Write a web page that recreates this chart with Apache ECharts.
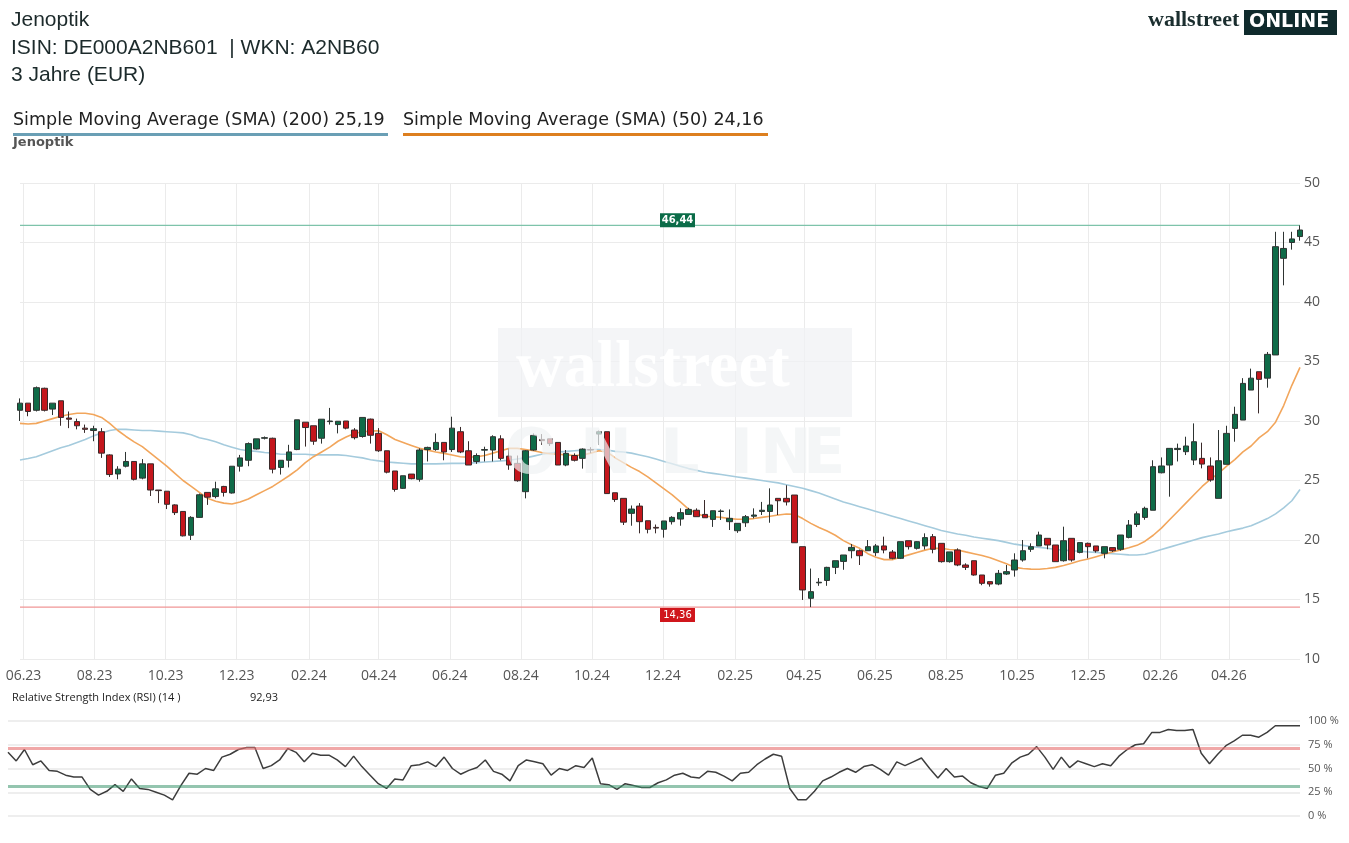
<!DOCTYPE html>
<html>
<head>
<meta charset="utf-8">
<script src="https://cdn.jsdelivr.net/npm/echarts@6/dist/echarts.min.js"></script>
<style>
html, body { margin: 0; padding: 0; background: #fff; }
#chart { width: 1349px; height: 843px; }
</style>
</head>
<body>
<div id="chart"></div>
<script>
// weekly candles, first week starts here
const startWeek = '2023-05-29'

// [open, close, low, high] per week
const weekly = [
    [30.9, 31.5, 30.0, 31.9], [31.5, 30.8, 30.4, 31.5], [30.9, 32.8, 30.8, 32.9], [32.75, 30.9, 30.8, 32.8],
    [31.0, 31.5, 30.5, 31.5], [31.7, 30.3, 29.6, 31.7], [30.25, 30.15, 29.4, 30.8], [29.95, 29.6, 29.3, 30.2],
    [29.4, 29.3, 29.0, 29.7], [29.2, 29.35, 28.3, 29.6], [29.1, 27.3, 26.9, 29.4], [27.15, 25.5, 25.3, 27.2],
    [25.55, 25.95, 25.1, 26.2], [26.2, 26.6, 26.1, 27.4], [26.6, 25.1, 25.0, 26.6], [25.2, 26.4, 25.1, 26.8],
    [26.4, 24.2, 23.7, 26.4], [24.2, 24.15, 23.1, 24.2], [24.1, 23.0, 22.6, 24.1], [22.95, 22.3, 22.1, 23.0],
    [22.4, 20.35, 20.3, 22.4], [20.4, 21.9, 20.0, 22.0], [21.9, 23.8, 21.9, 23.9], [24.0, 23.6, 22.95, 24.0],
    [23.65, 24.3, 23.5, 24.9], [24.5, 24.0, 23.65, 24.55], [23.95, 26.2, 23.9, 26.2], [26.2, 26.9, 25.75, 27.15],
    [26.7, 28.1, 26.2, 28.2], [27.65, 28.5, 27.6, 28.5], [28.55, 28.6, 28.45, 28.7], [28.55, 25.95, 25.6, 28.6],
    [26.1, 26.7, 25.5, 26.7], [26.7, 27.4, 26.1, 28.0], [27.6, 30.1, 27.55, 30.1], [29.9, 29.45, 27.85, 29.9],
    [29.6, 28.3, 28.0, 29.6], [28.55, 30.15, 28.1, 30.15], [29.95, 30.0, 29.7, 31.1], [29.7, 29.98, 28.96, 30.0],
    [30.0, 29.4, 29.3, 30.0], [29.24, 28.6, 28.45, 29.4], [28.7, 30.3, 28.6, 30.3], [30.16, 28.8, 28.1, 30.2],
    [28.96, 27.5, 27.4, 29.4], [27.5, 25.7, 25.6, 27.5], [25.8, 24.25, 24.06, 25.8], [24.34, 25.4, 24.3, 25.4],
    [25.54, 25.15, 25.1, 25.54], [25.1, 27.56, 24.9, 27.7], [27.6, 27.78, 26.6, 27.84], [27.6, 28.2, 27.5, 28.96],
    [28.2, 27.4, 26.7, 28.2], [27.6, 29.4, 27.4, 30.36], [29.1, 27.4, 27.3, 29.5], [27.5, 26.3, 26.3, 28.3],
    [26.6, 27.1, 26.4, 27.28], [27.55, 27.6, 26.6, 27.84], [27.56, 28.68, 26.6, 28.8], [28.5, 26.86, 26.7, 28.8],
    [27.05, 26.3, 25.9, 27.7], [26.44, 24.98, 24.9, 27.1], [24.06, 27.5, 23.5, 27.56], [27.56, 28.8, 27.5, 28.96],
    [28.45, 28.35, 28.0, 28.9], [28.5, 28.1, 27.9, 28.5], [28.2, 26.3, 26.3, 28.2], [26.3, 27.28, 26.2, 27.56],
    [27.1, 26.7, 26.6, 27.28], [26.86, 27.64, 26.0, 27.7], [27.6, 27.56, 27.3, 27.8], [28.9, 29.1, 28.0, 29.2],
    [29.1, 23.9, 23.9, 29.1], [23.97, 23.4, 23.2, 23.97], [23.5, 21.5, 21.26, 23.5], [22.24, 22.6, 21.2, 22.9],
    [22.85, 21.54, 20.56, 23.1], [21.62, 20.9, 20.56, 21.62], [21.06, 21.0, 20.56, 21.3], [20.9, 21.6, 20.2, 21.6],
    [21.54, 21.9, 21.3, 22.0], [21.76, 22.3, 21.2, 22.66], [22.15, 22.57, 22.1, 22.7], [22.5, 21.96, 21.96, 22.66],
    [22.15, 21.87, 21.87, 23.36], [21.73, 22.46, 21.1, 22.46], [22.4, 22.43, 21.68, 22.57], [21.54, 21.82, 20.84, 22.57],
    [20.78, 21.4, 20.6, 21.4], [21.45, 21.96, 21.1, 22.1], [22.0, 22.1, 21.82, 22.66], [22.4, 22.5, 22.1, 23.2],
    [22.4, 22.94, 21.45, 24.34], [23.5, 23.3, 22.1, 23.5], [23.5, 23.2, 22.9, 24.6], [23.78, 19.77, 19.77, 23.78],
    [19.44, 15.8, 14.96, 19.44], [15.1, 15.66, 14.36, 17.6], [16.4, 16.45, 16.15, 16.8], [16.6, 17.7, 16.15, 17.75],
    [17.7, 18.26, 17.14, 18.26], [18.2, 18.74, 17.5, 18.74], [19.1, 19.38, 18.46, 19.66], [19.1, 18.68, 17.9, 19.2],
    [19.1, 19.44, 19.1, 20.0], [18.94, 19.5, 18.66, 19.66], [19.5, 19.16, 18.88, 20.28], [18.99, 18.46, 18.38, 19.16],
    [18.46, 19.86, 18.4, 19.86], [19.94, 19.44, 19.2, 19.94], [19.3, 19.86, 19.2, 19.9], [19.5, 20.2, 19.2, 20.56],
    [20.28, 19.22, 18.88, 20.5], [19.72, 18.18, 18.1, 19.72], [18.18, 19.0, 18.1, 19.0], [19.16, 17.9, 17.8, 19.3],
    [17.9, 17.7, 17.48, 18.04], [18.26, 17.06, 17.0, 18.26], [17.06, 16.36, 16.2, 17.06], [16.5, 16.3, 16.08, 16.5],
    [16.3, 17.2, 16.2, 17.48], [17.14, 17.34, 17.06, 17.9], [17.48, 18.32, 16.92, 18.88], [18.32, 19.1, 18.18, 20.0],
    [19.22, 19.44, 19.0, 19.72], [19.5, 20.42, 19.5, 20.7], [20.14, 19.58, 19.22, 20.14], [19.58, 18.18, 18.18, 19.58],
    [18.26, 19.94, 18.18, 21.12], [20.14, 18.32, 18.18, 20.14], [18.96, 19.78, 18.88, 19.78], [19.72, 19.44, 18.46, 19.78],
    [19.5, 19.08, 18.94, 19.5], [18.88, 19.44, 18.46, 19.44], [19.36, 19.1, 19.0, 19.36], [19.22, 20.42, 19.1, 20.42],
    [20.22, 21.26, 20.14, 21.68], [21.3, 22.2, 21.1, 22.4], [21.9, 22.66, 21.7, 22.8], [22.5, 26.16, 22.5, 26.7],
    [25.65, 26.22, 25.6, 26.94], [26.3, 27.7, 23.64, 27.7], [27.6, 27.7, 26.6, 28.1], [27.42, 27.9, 27.14, 28.68],
    [26.72, 28.26, 26.3, 29.8], [26.86, 26.38, 26.02, 28.18], [26.22, 25.04, 24.9, 26.94], [23.5, 26.66, 23.5, 29.24],
    [26.36, 28.96, 26.36, 29.6], [29.38, 30.56, 28.26, 31.2], [30.08, 33.16, 30.08, 33.6], [32.6, 33.6, 32.6, 34.4],
    [34.14, 33.5, 30.64, 34.14], [33.6, 35.6, 32.8, 35.8], [35.55, 44.65, 35.55, 45.9], [43.67, 44.5, 41.4, 45.9],
    [45.0, 45.3, 44.4, 45.9], [45.5, 46.05, 45.15, 46.44]
]

const sma200 = [
    26.73, 26.85, 27.0, 27.25, 27.5, 27.75, 27.95, 28.2, 28.45, 28.75, 29.0, 29.2, 29.3, 29.3, 29.25, 29.2,
    29.2, 29.15, 29.1, 29.05, 29.0, 28.85, 28.6, 28.45, 28.25, 28.0, 27.8, 27.6, 27.5, 27.45, 27.35, 27.3,
    27.2, 27.2, 27.2, 27.2, 27.15, 27.15, 27.15, 27.15, 27.1, 27.0, 26.9, 26.75, 26.65, 26.55, 26.5, 26.45,
    26.4, 26.4, 26.4, 26.4, 26.42, 26.44, 26.44, 26.46, 26.5, 26.55, 26.6, 26.65, 26.7, 26.8, 26.9, 27.05,
    27.2, 27.3, 27.4, 27.45, 27.5, 27.55, 27.6, 27.6, 27.55, 27.45, 27.4, 27.3, 27.15, 27.0, 26.8, 26.6,
    26.4, 26.2, 26.0, 25.85, 25.7, 25.6, 25.5, 25.4, 25.3, 25.2, 25.1, 25.0, 24.9, 24.8, 24.65, 24.5,
    24.35, 24.15, 23.95, 23.7, 23.45, 23.2, 23.0, 22.8, 22.6, 22.4, 22.2, 22.0, 21.8, 21.6, 21.4, 21.2,
    21.0, 20.8, 20.65, 20.5, 20.4, 20.25, 20.15, 20.05, 19.95, 19.8, 19.65, 19.55, 19.45, 19.38, 19.3, 19.2,
    19.15, 19.1, 19.05, 19.0, 18.95, 18.9, 18.85, 18.8, 18.75, 18.74, 18.8, 19.0, 19.2, 19.4, 19.6, 19.8,
    20.0, 20.2, 20.35, 20.5, 20.7, 20.85, 21.0, 21.2, 21.5, 21.8, 22.2, 22.7, 23.3, 24.25
]

const sma50 = [
    29.8, 29.75, 29.8, 30.0, 30.2, 30.4, 30.55, 30.65, 30.65, 30.55, 30.3, 29.8, 29.2, 28.7, 28.25, 27.85,
    27.3, 26.75, 26.2, 25.6, 25.0, 24.5, 24.0, 23.5, 23.25, 23.1, 23.03, 23.2, 23.45, 23.8, 24.15, 24.5,
    24.95, 25.4, 25.9, 26.5, 27.0, 27.4, 27.8, 28.3, 28.65, 28.95, 29.1, 29.15, 29.18, 28.85, 28.45, 28.2,
    27.95, 27.7, 27.55, 27.4, 27.28, 27.15, 27.0, 26.95, 27.0, 27.1, 27.3, 27.5, 27.7, 27.7, 27.6, 27.5,
    27.35, 27.25, 27.2, 27.15, 27.1, 27.14, 27.3, 27.5, 27.4, 26.9, 26.5, 26.1, 25.75, 25.3, 24.8, 24.3,
    23.8, 23.2, 22.6, 22.2, 22.0, 21.95, 21.9, 21.8, 21.75, 21.75, 21.8, 21.9, 22.0, 22.1, 22.18, 22.15,
    21.8, 21.4, 21.05, 20.75, 20.4, 19.95, 19.6, 19.3, 18.85, 18.55, 18.35, 18.35, 18.55, 18.75, 18.95, 19.15,
    19.3, 19.3, 19.2, 19.16, 19.0, 18.85, 18.7, 18.5, 18.25, 18.0, 17.7, 17.6, 17.55, 17.54, 17.6, 17.7,
    17.85, 18.05, 18.25, 18.4, 18.6, 18.8, 19.0, 19.16, 19.35, 19.55, 19.9, 20.4, 21.0, 21.7, 22.4, 23.1,
    23.8, 24.5, 25.1, 25.6, 26.2, 26.75, 27.4, 27.9, 28.6, 29.1, 29.9, 31.3, 33.0, 34.5
]

const rsi14 = [
    67, 58, 70, 54, 58, 48, 47, 43, 41, 41, 28, 22, 26, 33, 26, 39, 29, 28, 25, 22,
    17, 32, 45, 44, 50, 48, 62, 65, 70, 72, 72, 50, 53, 59, 71, 67, 57, 66, 64, 64,
    59, 52, 63, 52, 43, 34, 29, 39, 38, 53, 54, 57, 52, 62, 50, 44, 48, 51, 59, 47,
    44, 37, 53, 59, 57, 55, 43, 50, 48, 53, 51, 61, 34, 33, 28, 34, 32, 30, 30, 35,
    38, 43, 45, 41, 40, 47, 46, 42, 37, 45, 46, 54, 60, 65, 63, 29, 17, 17, 26, 37,
    41, 46, 50, 46, 52, 54, 49, 43, 57, 53, 57, 61, 50, 40, 50, 41, 42, 35, 31, 29,
    43, 45, 56, 62, 65, 73, 62, 49, 62, 51, 58, 55, 52, 55, 53, 63, 70, 75, 76, 88,
    88, 91, 90, 90, 91, 66, 55, 65, 74, 79, 85, 85, 83, 88, 95, 95, 95, 95
]

// x axis ticks (first day of every second month)
const tickDates = [
    '2023-06-01', '2023-08-01', '2023-10-01', '2023-12-01', '2024-02-01', '2024-04-01',
    '2024-06-01', '2024-08-01', '2024-10-01', '2024-12-01', '2025-02-01', '2025-04-01',
    '2025-06-01', '2025-08-01', '2025-10-01', '2025-12-01', '2026-02-01', '2026-04-01'
]
const priceTicks = { min: 10, max: 50, step: 5 }
const rsiTicks = { min: 0, max: 100, step: 25 }
const rsiBands = { upper: 71, lower: 31.5 }
const highMark = 46.44
const lowMark = 14.36

const DAY = 86400000
function toTime(s) {
    var p = s.split('-').map(Number)
    return Date.UTC(p[0], p[1] - 1, p[2])
}
var t0 = toTime(startWeek)
// x positions are days since the first week
function toDay(s) {
    return Math.round((toTime(s) - t0) / DAY)
}
function fmtNum(v) {
    return v.toFixed(2).replace('.', ',')
}
function fmtMonth(day) {
    var d = new Date(t0 + day * DAY)
    var m = d.getUTCMonth() + 1
    return (m < 10 ? '0' + m : m) + '.' + String(d.getUTCFullYear()).slice(2)
}

var weekDays = weekly.map((r, i) => i * 7)
var tickDays = tickDates.map(toDay)
var firstDay = weekDays[0]
var lastDay = weekDays[weekDays.length - 1]
var midDay = (firstDay + lastDay) / 2

var candleData = weekly.map((r, i) => [weekDays[i], r[0], r[1], r[2], r[3]])
var sma200Data = sma200.map((v, i) => [weekDays[i], v])
var sma50Data = sma50.map((v, i) => [weekDays[i], v])

// high / low level: a flat line over the whole range, value box starting at the middle
function levelSeries(name, value, lineColor, boxColor, above) {
    return {
        name: name,
        type: 'line',
        xAxisIndex: 0,
        yAxisIndex: 0,
        silent: true,
        showSymbol: false,
        z: 2,
        data: [[firstDay, value], [lastDay, value]],
        lineStyle: { color: lineColor, width: 1.2 },
        markPoint: {
            silent: true,
            animation: false,
            symbol: 'rect',
            symbolSize: [35, 14],
            symbolOffset: [17.5, above ? -5 : 8],
            itemStyle: { color: boxColor },
            label: {
                show: true,
                position: 'inside',
                formatter: fmtNum(value),
                color: '#fff',
                fontWeight: above ? 'bold' : 'normal',
                fontSize: 10,
                fontFamily: '"DejaVu Sans", sans-serif'
            },
            data: [{ coord: [midDay, value], itemStyle: { color: boxColor } }]
        }
    }
}

var chart = echarts.init(document.getElementById('chart'), null, { renderer: 'canvas' })

var gridColor = '#ebebeb'
var labelFont = '"Open Sans", "Noto Sans", sans-serif'
var titleFont = '21px "Liberation Sans", Arial, sans-serif'
var legendFont = '17.5px "DejaVu Sans", Verdana, sans-serif'
var markFill = 'rgba(240,242,244,0.7)'
var markFont = 'bold 62px "DejaVu Sans", sans-serif'

chart.setOption({
    animation: false,
    backgroundColor: '#fff',
    grid: [
        { left: 20, right: 49, top: 183, height: 476 },
        { left: 8, right: 49, top: 721, height: 95 }
    ],
    xAxis: [{
        type: 'value',
        gridIndex: 0,
        min: firstDay,
        max: lastDay,
        axisLine: { show: false },
        axisTick: { show: false, customValues: tickDays },
        axisLabel: {
            customValues: tickDays,
            formatter: fmtMonth,
            color: '#555',
            fontFamily: labelFont,
            fontSize: 14,
            margin: 10,
            hideOverlap: false
        },
        splitLine: { show: true, lineStyle: { color: gridColor, width: 1 } }
    }, {
        type: 'category',
        gridIndex: 1,
        boundaryGap: false,
        data: rsi14.map((v, i) => i),
        axisLine: { show: false },
        axisTick: { show: false },
        axisLabel: { show: false },
        splitLine: { show: false }
    }],
    yAxis: [{
        type: 'value',
        gridIndex: 0,
        position: 'right',
        min: priceTicks.min,
        max: priceTicks.max,
        interval: priceTicks.step,
        axisLine: { show: false },
        axisTick: { show: false },
        axisLabel: { color: '#555', fontFamily: labelFont, fontSize: 14, margin: 4 },
        splitLine: { lineStyle: { color: gridColor, width: 1 } }
    }, {
        type: 'value',
        gridIndex: 1,
        position: 'right',
        min: rsiTicks.min,
        max: rsiTicks.max,
        interval: rsiTicks.step,
        axisLine: { show: false },
        axisTick: { show: false },
        axisLabel: {
            color: '#555', fontFamily: labelFont, fontSize: 11, margin: 8,
            formatter: v => v + ' %'
        },
        splitLine: { lineStyle: { color: '#eeeeee', width: 2 } }
    }],
    series: [{
        name: 'SMA 200',
        type: 'line',
        xAxisIndex: 0,
        yAxisIndex: 0,
        data: sma200Data,
        showSymbol: false,
        z: 1,
        lineStyle: { color: '#a5cbdd', width: 1.6 }
    }, {
        name: 'SMA 50',
        type: 'line',
        xAxisIndex: 0,
        yAxisIndex: 0,
        data: sma50Data,
        showSymbol: false,
        z: 1,
        lineStyle: { color: '#f2a65c', width: 1.6 }
    },
    levelSeries('Hoch', highMark, '#7ec3aa', '#0b6c48', true),
    levelSeries('Tief', lowMark, '#f09696', '#d0161c', false),
    {
        name: 'Jenoptik',
        type: 'candlestick',
        xAxisIndex: 0,
        yAxisIndex: 0,
        data: candleData,
        barWidth: 6,
        z: 3,
        itemStyle: {
            color: '#0f6b48',
            color0: '#c4161c',
            borderColor: '#2e3432',
            borderColor0: '#3a2a2a',
            borderWidth: 1
        }
    }, {
        name: 'RSI',
        type: 'line',
        xAxisIndex: 1,
        yAxisIndex: 1,
        data: rsi14,
        showSymbol: false,
        lineStyle: { color: '#3d3d3d', width: 1.5 },
        markLine: {
            silent: true,
            symbol: 'none',
            animation: false,
            label: { show: false },
            data: [
                { yAxis: rsiBands.upper, lineStyle: { color: 'rgba(230,110,110,0.6)', width: 3, type: 'solid' } },
                { yAxis: rsiBands.lower, lineStyle: { color: 'rgba(60,150,110,0.55)', width: 3, type: 'solid' } }
            ]
        }
    }],
    graphic: [
        // header
        { type: 'text', left: 11, top: 10, style: { text: 'Jenoptik', font: titleFont, fill: '#1c2a2b' } },
        { type: 'text', left: 11, top: 38, style: { text: 'ISIN: DE000A2NB601  | WKN: A2NB60', font: titleFont, fill: '#1c2a2b' } },
        { type: 'text', left: 11, top: 65, style: { text: '3 Jahre (EUR)', font: titleFont, fill: '#1c2a2b' } },
        // legend with underlines
        { type: 'text', left: 13, top: 111, style: { text: 'Simple Moving Average (SMA) (200) 25,19', font: legendFont, fill: '#222' } },
        { type: 'rect', shape: { x: 13, y: 133, width: 375, height: 3 }, style: { fill: '#6a9fb5' } },
        { type: 'text', left: 403, top: 111, style: { text: 'Simple Moving Average (SMA) (50) 24,16', font: legendFont, fill: '#222' } },
        { type: 'rect', shape: { x: 403, y: 133, width: 365, height: 3 }, style: { fill: '#dd7f1f' } },
        { type: 'text', left: 13, top: 136, style: { text: 'Jenoptik', font: 'bold 13px "DejaVu Sans", Verdana, sans-serif', fill: '#555' } },
        // logo
        { type: 'text', left: 1148, top: 9, style: { text: 'wallstreet', font: 'bold 22px "Liberation Serif", "DejaVu Serif", serif', fill: '#1b2e2f' } },
        { type: 'rect', shape: { x: 1244, y: 10, width: 93, height: 25 }, style: { fill: '#0f2a2c' } },
        { type: 'text', left: 1249, top: 13, style: { text: 'ONLINE', font: 'bold 19px "DejaVu Sans", Verdana, sans-serif', fill: '#fff' } },
        // RSI header
        { type: 'text', left: 12, top: 692, style: { text: 'Relative Strength Index (RSI) (14 )', font: '11px "Open Sans", sans-serif', fill: '#222' } },
        { type: 'text', left: 250, top: 692, style: { text: '92,93', font: '11px "Open Sans", sans-serif', fill: '#222' } },
        // watermark on top of the plot
        { type: 'rect', z: 50, shape: { x: 498, y: 328, width: 354, height: 89 }, style: { fill: 'rgba(240,242,244,0.75)' } },
        { type: 'text', z: 51, left: 516, top: 336, style: { text: 'wallstreet', font: 'bold 66px "Liberation Serif", serif', fill: 'rgba(255,255,255,0.95)' } },
        { type: 'text', z: 51, left: 505, top: 426, style: { text: 'O', font: markFont, fill: markFill } },
        { type: 'text', z: 51, left: 580, top: 426, style: { text: 'N', font: markFont, fill: markFill } },
        { type: 'text', z: 51, left: 660, top: 426, style: { text: 'L', font: markFont, fill: markFill } },
        { type: 'text', z: 51, left: 730, top: 426, style: { text: 'I', font: markFont, fill: markFill } },
        { type: 'text', z: 51, left: 760, top: 426, style: { text: 'N', font: markFont, fill: markFill } },
        { type: 'text', z: 51, left: 803, top: 426, style: { text: 'E', font: markFont, fill: markFill } }
    ]
})
</script>
</body>
</html>
